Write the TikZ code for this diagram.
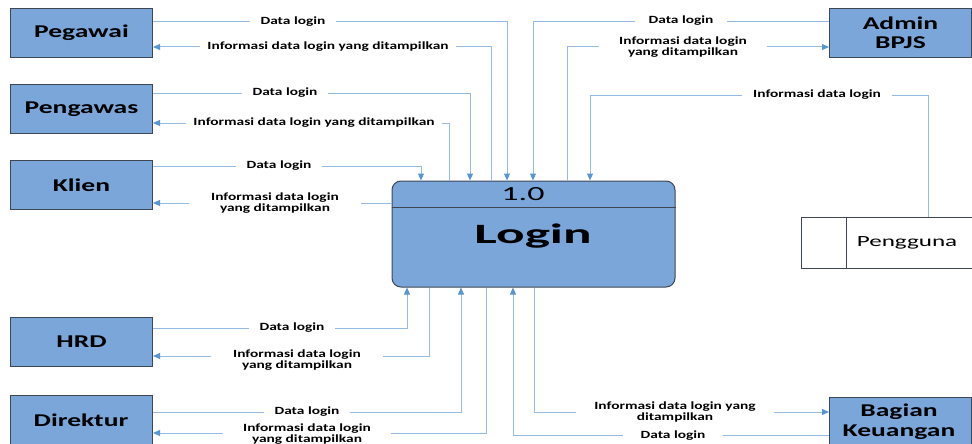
\documentclass[tikz,border=0pt]{standalone}
\usepackage{fontspec}
\usetikzlibrary{arrows.meta}
\setmainfont{Carlito}
% Wide-set Carlito faces for the different text roles
\newfontfamily\entfam[FakeStretch=1.53]{Carlito}
\newfontfamily\lblfam[FakeStretch=1.4]{Carlito}
\newfontfamily\loginfam[FakeStretch=1.9]{Carlito}
\newfontfamily\numfam[FakeStretch=1.7]{Carlito}
\newfontfamily\storefam[FakeStretch=1.62]{Carlito}

\definecolor{boxblue}{RGB}{122,166,218}
\definecolor{boxedge}{RGB}{62,70,84}
\definecolor{flowblue}{RGB}{150,186,224}
\definecolor{headblue}{RGB}{88,150,210}

\tikzset{
  entity/.style={draw=boxedge, fill=boxblue, line width=1pt,
    minimum width=142, minimum height=49, anchor=north west, align=center,
    inner sep=0pt, font=\entfam\bfseries\fontsize{18}{19}\selectfont},
  flow/.style={draw=flowblue, line width=1pt,
    -{Triangle[length=7pt,width=6pt,color=headblue]}},
  lbl/.style={fill=white, inner xsep=11pt, inner ysep=1pt, align=center,
    font=\lblfam\bfseries\fontsize{11}{11}\selectfont},
}

\begin{document}
\begin{tikzpicture}[x=1pt, y=-1pt]
\useasboundingbox (0,0) rectangle (972,444);
\clip (0,0) rectangle (972,444);

% external entities
\node[entity] (pegawai)  at (10,8)   {Pegawai};
\node[entity] (pengawas) at (10,84)  {Pengawas};
\node[entity] (klien)    at (10,160) {Klien};
\node[entity] (hrd)      at (10,317) {HRD};
\node[entity, minimum height=52] (direktur) at (10,395) {};
\node[font=\entfam\bfseries\fontsize{18}{19}\selectfont] (direkturtxt) at (81,420) {Direktur};
\node[entity] (admin)    at (829,8)  {Admin\\BPJS};
\node[entity, minimum height=55] (bagian) at (829,397) {};
\node[font=\entfam\bfseries\fontsize{18}{20}\selectfont, align=center] (bagiantxt) at (899,422) {Bagian\\Keuangan};

% process 1.0
\node[draw=boxedge, fill=boxblue, line width=1pt, rounded corners=9pt,
      minimum width=283, minimum height=106, inner sep=0pt] (login) at (533.5,234) {};
\draw[boxedge, line width=0.8pt] (login.west |- 0,207) -- (login.east |- 0,207);
\node[font=\numfam\fontsize{20}{20}\selectfont] (num) at (523,194) {1.0};
\node[font=\loginfam\bfseries\fontsize{28}{28}\selectfont] (title) at (533,236) {Login};

% data store
\node[draw=boxedge, line width=0.8pt, fill=white, minimum width=190, minimum height=51,
      anchor=north west, inner sep=0pt] (store) at (801,217) {};
\draw[boxedge, line width=0.8pt] (846,0 |- store.north) -- (846,0 |- store.south);
\node[font=\storefam\fontsize{15.5}{16}\selectfont] (pengguna) at (907,243) {Pengguna};

% Pegawai
\draw[flow] (pegawai.east |- 0,22) -| (507,0 |- login.north);
\draw[flow] (491,0 |- login.north) |- (pegawai.east |- 0,47);
\node[lbl] (l1) at (293,22) {Data login};
\node[lbl, inner xsep=7pt] (l2) at (328,47) {Informasi data login yang ditampilkan};

% Pengawas
\draw[flow] (pengawas.east |- 0,93) -| (470,0 |- login.north);
\draw[flow] (449,0 |- login.north) |- (pengawas.east |- 0,123);
\node[lbl] (l3) at (285,93) {Data login};
\node[lbl, inner xsep=7pt] (l4) at (314,123) {Informasi data login yang ditampilkan};

% Klien
\draw[flow] (klien.east |- 0,166) -| (421,0 |- login.north);
\draw[flow] (login.west |- 0,203) -- (klien.east |- 0,203);
\node[lbl] (l5) at (279,166) {Data login};
\node[lbl, inner xsep=22pt] (l6) at (275,203) {Informasi data login\\yang ditampilkan};

% HRD
\draw[flow] (hrd.east |- 0,328) -| (407,0 |- login.south);
\draw[flow] (429,0 |- login.south) |- (hrd.east |- 0,356);
\node[lbl] (l7) at (292,328) {Data login};
\node[lbl, inner xsep=22pt] (l8) at (297,360) {Informasi data login\\yang ditampilkan};

% Direktur
\draw[flow] (direktur.east |- 0,412) -| (461,0 |- login.south);
\draw[flow] (486,0 |- login.south) |- (direktur.east |- 0,433);
\node[lbl] (l9) at (307,412) {Data login};
\node[lbl, inner xsep=20pt, inner ysep=0pt] (l10) at (307,434.5) {Informasi data login\\yang ditampilkan};

% Admin BPJS
\draw[flow] (admin.west |- 0,22) -| (533,0 |- login.north);
\draw[flow] (567,0 |- login.north) |- (admin.west |- 0,47);
\node[lbl, inner xsep=14pt] (l11) at (681,21) {Data login};
\node[lbl, inner xsep=20pt] (l12) at (683,47) {Informasi data login\\yang ditampilkan};

% Pengguna
\draw[flow] (928,0 |- store.north) |- (590,95) -- (590,0 |- login.north);
\node[lbl] (l13) at (817,95) {Informasi data login};

% Bagian Keuangan
\draw[flow] (534,0 |- login.south) |- (bagian.west |- 0,412);
\draw[flow] (bagian.west |- 0,435) -| (513,0 |- login.south);
\node[lbl, inner xsep=18pt] (l14) at (675,412) {Informasi data login yang\\ditampilkan};
\node[lbl, inner xsep=18pt] (l15) at (673,436) {Data login};
\end{tikzpicture}
\end{document}
